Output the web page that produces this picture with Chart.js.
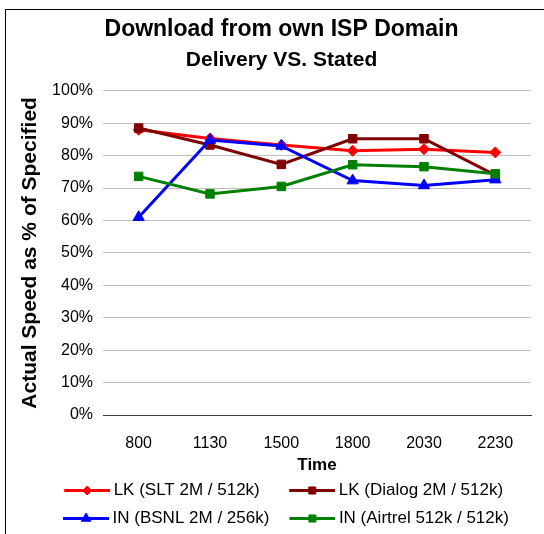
<!DOCTYPE html>
<html>
<head>
<meta charset="utf-8">
<script src="https://cdn.jsdelivr.net/npm/chart.js@4/dist/chart.umd.min.js"></script>
<style>
  html, body { margin: 0; padding: 0; background: #fff; overflow: hidden; }
  #frame { position: absolute; left: 5px; top: 9px; width: 600px; height: 600px; border: 1px solid #000; }
  #wrap { position: absolute; left: 0; top: 0; width: 544px; height: 534px; }
</style>
</head>
<body>
<div id="frame"></div>
<div id="wrap"><canvas id="chart" width="544" height="534"></canvas></div>
<script>
// chart data
const times = ['800', '1130', '1500', '1800', '2030', '2230'];
const sltValues = [88, 85.3, 83.3, 81.5, 82, 81];
const dialogValues = [88.5, 83.3, 77.3, 85.2, 85.2, 74];
const bsnlValues = [61, 84.8, 83, 72.3, 70.8, 72.6];
const airtelValues = [73.6, 68.2, 70.5, 77.2, 76.6, 74.4];
// trailing spaces keep the two legend columns lined up
const seriesNames = ['LK (SLT 2M / 512k)  ', 'LK (Dialog 2M / 512k) ', 'IN (BSNL 2M / 256k)', 'IN (Airtrel 512k / 512k)'];

const FONT = 'Liberation Sans, Arial, sans-serif';
Chart.defaults.font.family = FONT;
Chart.defaults.color = '#000';

// series styles
const styles = [
    { color: '#ff0000', point: 'rectRot', radius: 5.5 },
    { color: '#800000', point: 'rect', radius: 6 },
    { color: '#0000ff', point: 'triangle', radius: 6.5 },
    { color: '#008000', point: 'rect', radius: 6 }
];

// small line + marker pictures for the legend
function legendIcon(style) {
    const c = document.createElement('canvas');
    c.width = 60;
    c.height = 17;
    const ctx = c.getContext('2d');
    ctx.strokeStyle = style.color;
    ctx.fillStyle = style.color;
    ctx.lineWidth = 3;
    ctx.beginPath();
    ctx.moveTo(14, 8.5);
    ctx.lineTo(60, 8.5);
    ctx.stroke();
    ctx.lineWidth = 1;
    Chart.helpers.drawPoint(ctx, { pointStyle: style.point, radius: style.radius - 1, rotation: 0, borderWidth: 1 }, 37, 8.5);
    return c;
}

const allValues = [sltValues, dialogValues, bsnlValues, airtelValues];
const datasets = allValues.map((values, i) => ({
    label: seriesNames[i],
    data: values,
    borderColor: styles[i].color,
    backgroundColor: styles[i].color,
    pointBackgroundColor: styles[i].color,
    pointBorderColor: styles[i].color,
    pointStyle: styles[i].point,
    pointRadius: styles[i].radius,
    pointBorderWidth: 1,
    borderWidth: 3,
    tension: 0,
    order: 4 - i
}));

new Chart(document.getElementById('chart'), {
    type: 'line',
    data: { labels: times, datasets: datasets },
    options: {
        responsive: false,
        animation: false,
        layout: { padding: { left: 32, right: 13, top: 6, bottom: -3 } },
        plugins: {
            title: {
                display: true,
                text: 'Download from own ISP Domain',
                font: { size: 23, weight: 'bold' },
                color: '#000',
                padding: { top: 10, bottom: 4 }
            },
            subtitle: {
                display: true,
                text: 'Delivery VS. Stated',
                font: { size: 21, weight: 'bold' },
                color: '#000',
                padding: { top: 0, bottom: 18 }
            },
            legend: {
                position: 'bottom',
                labels: {
                    usePointStyle: true,
                    pointStyleWidth: 50,
                    padding: 11,
                    font: { size: 17 },
                    color: '#000',
                    generateLabels: (chart) => chart.data.datasets.map((ds, i) => ({
                        text: ds.label,
                        pointStyle: legendIcon(styles[i]),
                        fillStyle: ds.borderColor,
                        strokeStyle: ds.borderColor,
                        lineWidth: 0,
                        hidden: false,
                        datasetIndex: i
                    }))
                }
            },
            tooltip: { enabled: false }
        },
        scales: {
            x: {
                offset: true,
                grid: { display: false },
                border: { display: true, color: '#404040' },
                ticks: { font: { size: 16 }, padding: 11 },
                title: {
                    display: true,
                    text: 'Time',
                    font: { size: 17, weight: 'bold' },
                    padding: { top: 0, bottom: -5 }
                },
                afterFit: (scale) => { scale.height = 56; }
            },
            y: {
                min: 0,
                max: 100,
                border: { display: false },
                grid: {
                    drawTicks: false,
                    color: (ctx) => ctx.tick && ctx.tick.value === 0 ? '#404040' : '#bfbfbf'
                },
                ticks: {
                    stepSize: 10,
                    padding: 10,
                    font: { size: 16 },
                    callback: (v) => v + '%'
                },
                title: {
                    display: true,
                    text: 'Actual Speed as % of Specified',
                    font: { size: 21, weight: 'bold' },
                    padding: { top: -14, bottom: 4 }
                },
                afterFit: (scale) => { scale.width = 71; }
            }
        }
    }
});
</script>
</body>
</html>
